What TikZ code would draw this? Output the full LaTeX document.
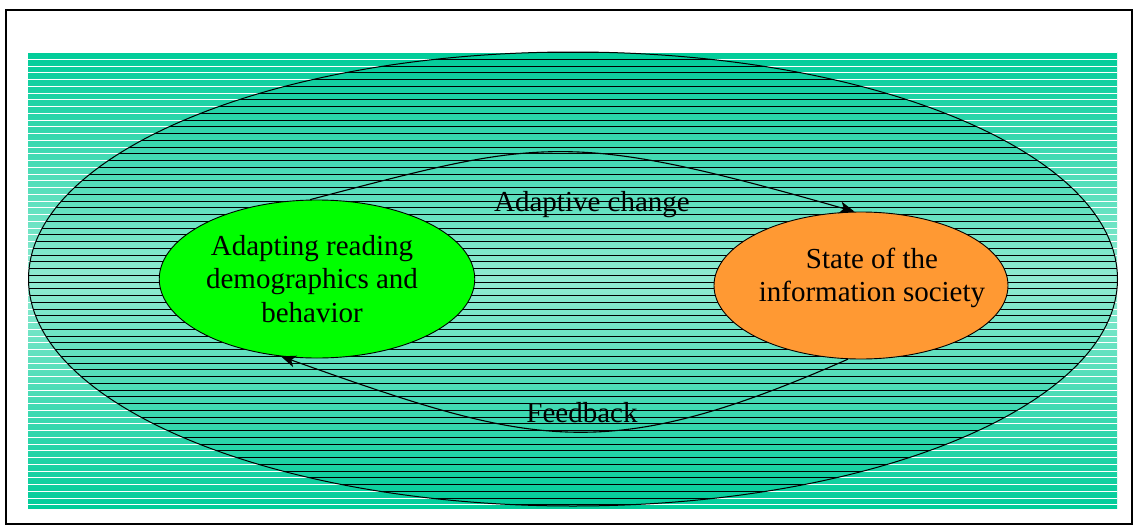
\documentclass[tikz,border=0pt]{standalone}
\usepackage{fontspec}
\setmainfont{Liberation Serif}
\newfontfamily\timesfont{Liberation Serif}
\usetikzlibrary{shapes.geometric,arrows.meta}
\definecolor{tealdark}{RGB}{0,204,153}
\definecolor{teallight}{RGB}{145,235,210}
\definecolor{nodegreen}{RGB}{0,255,0}
\definecolor{nodeorange}{RGB}{255,153,51}
\tikzset{
  bubble/.style={ellipse,draw=black,line width=0.9pt,inner sep=0pt},
  lbl/.style={font=\timesfont\fontsize{29}{33.5}\selectfont,align=center,inner sep=0pt,text=black},
  arr/.style={line width=1.1pt,-{Stealth[length=15pt,width=12pt,inset=4pt]}},
  whitestripe/.style={white,line width=1pt},
  blackstripe/.style={black,line width=1pt},
}
\begin{document}
\begin{tikzpicture}[x=1pt,y=-1pt]
\useasboundingbox (0,0) rectangle (1133,525);
\fill[white] (0,0) rectangle (1133,525);
\draw[line width=1.6pt] (6,10) rectangle (1132,524);
% gradient band
\shade[top color=tealdark,bottom color=tealdark,middle color=teallight] (28,52) rectangle (1117,508);
\foreach \i in {0,...,67} {
  \draw[whitestripe] (28,{52.5+6.75*\i}) -- (1117,{52.5+6.75*\i});
}
\begin{scope}
  \clip (573,279) ellipse [x radius=544.5pt, y radius=227pt];
  \foreach \i in {0,...,67} {
    \draw[blackstripe] (28,{52.5+6.75*\i}) -- (1117,{52.5+6.75*\i});
  }
\end{scope}
\draw[line width=1pt] (573,279) ellipse [x radius=544.5pt, y radius=227pt];
% nodes
\node[bubble,fill=nodegreen,minimum width=315.5pt,minimum height=158pt] (green) at (317,279) {};
\node[bubble,fill=nodeorange,minimum width=294pt,minimum height=147pt] (orange) at (861,285.5) {};
\node[lbl] (greentext) at (312,279) {Adapting reading\\demographics and\\behavior};
\node[lbl] (orangetext) at (872,278) {State of the\\information society};
% connectors
\draw[arr] (green.95) .. controls (541.8,138.9) and (566.6,129.3) .. (orange.95);
\draw[arr] (orange.260) .. controls (604,466.6) and (532.4,445.9) .. (green.245);
\node[lbl,anchor=base] (adaptlbl) at (592,211) {Adaptive change};
\node[lbl,anchor=base] (feedlbl) at (582,422) {Feedback};
\end{tikzpicture}
\end{document}
